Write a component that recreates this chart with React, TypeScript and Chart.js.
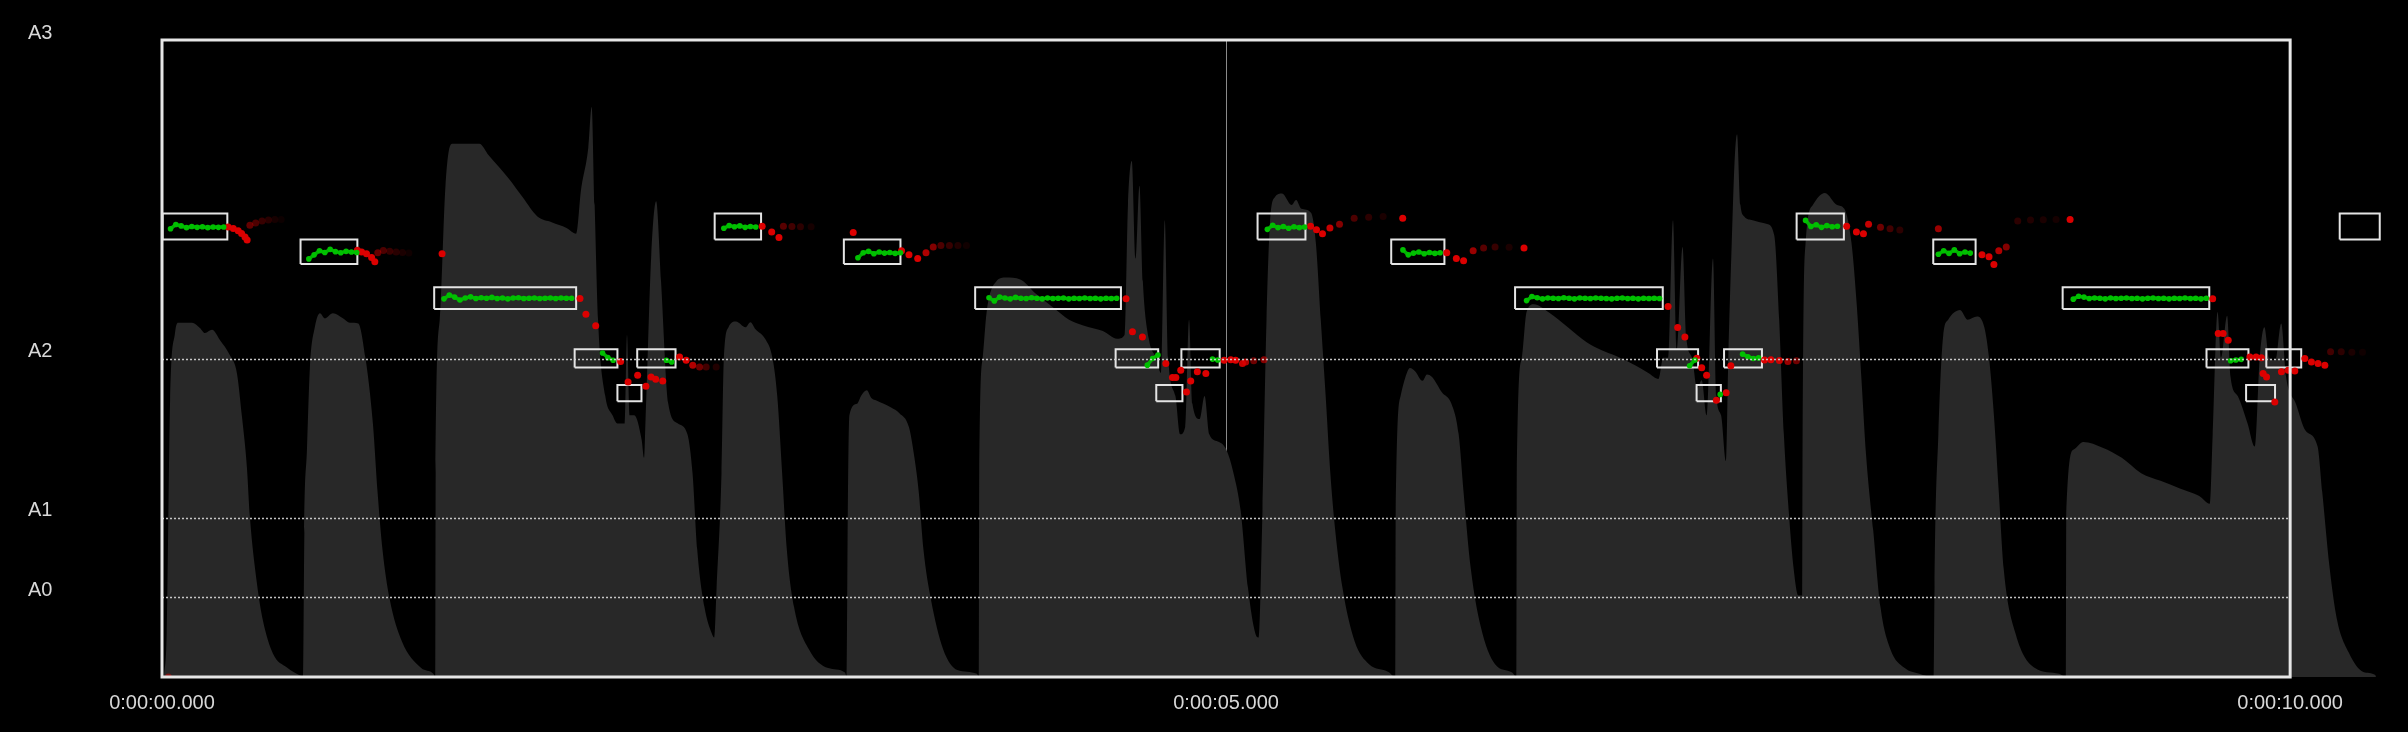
import React, { useEffect, useRef } from 'react';
import Chart from 'chart.js/auto';

// ---- axes ----
const yTickHz = [27.5, 55, 110, 220];
const yTickLabels = ['A0', 'A1', 'A2', 'A3'];
const xTickSec = [0, 5, 10];
const xTickLabels = ['0:00:00.000', '0:00:05.000', '0:00:10.000'];
const xViewEnd = 10.535;
const yMaxHz = 220;

// ---- note boxes (seconds, Hz) ----
const noteStart = [0.003, 0.651, 1.279, 1.939, 2.14, 2.233, 2.597, 3.204, 3.821, 4.481, 4.672, 4.79, 5.148, 5.776, 6.358, 7.025, 7.211, 7.34, 7.681, 8.323, 8.931, 9.607, 9.793, 9.888, 10.233];
const noteEnd = [0.307, 0.918, 1.946, 2.14, 2.253, 2.413, 2.815, 3.47, 4.506, 4.681, 4.795, 4.97, 5.373, 6.026, 7.052, 7.218, 7.325, 7.518, 7.903, 8.522, 9.62, 9.804, 9.929, 10.052, 10.421];
const notePitchHz = [155.56, 146.83, 130.81, 110, 98, 110, 155.56, 146.83, 130.81, 110, 98, 110, 155.56, 146.83, 130.81, 110, 98, 110, 155.56, 146.83, 130.81, 110, 98, 110, 155.56];

// ---- pitch track inside notes (green), sampled every greenStep s ----
const greenStep = 0.025;
const greenStart = [0.04, 0.69, 1.325, 2.07, 2.37, 2.64, 3.27, 3.886, 4.63, 4.936, 5.194, 5.831, 6.412, 7.178, 7.322, 7.427, 7.723, 8.347, 8.981, 9.72];
const greenHz = [
  [154.8, 156.3, 155.8, 155.2, 155.6, 155.3, 155.5, 155.2, 155.4, 155.3, 155.4],
  [144.4, 145.8, 147.2, 146.6, 147.7, 146.9, 146.5, 147.0, 146.8, 146.6],
  [130.6, 131.9, 131.2, 130.2, 130.9, 131.3, 130.7, 131.0, 130.8, 131.1, 130.7, 130.9, 130.6, 130.9, 131.0, 130.7, 130.8, 130.9, 130.7, 130.8, 130.9, 130.7, 130.9, 130.8, 130.8],
  [111.9, 110.3, 109.4],
  [109.4, 108.8],
  [155.0, 155.9, 155.5, 155.8, 155.3, 155.6, 155.4],
  [144.8, 146.5, 147.0, 146.2, 146.8, 146.4, 146.6, 146.3, 146.5],
  [131.0, 129.9, 131.2, 130.9, 130.6, 131.1, 130.8, 130.7, 131.0, 130.8, 130.6, 130.9, 130.7, 130.8, 130.9, 130.6, 130.8, 130.7, 130.9, 130.7, 130.8, 130.6, 130.8, 130.7, 130.8],
  [107.7, 110.0, 111.2],
  [109.8, 109.5],
  [154.6, 156.0, 155.2, 155.6, 155.0, 155.5, 155.2, 155.4],
  [147.5, 145.8, 146.4, 146.8, 146.2, 146.6, 146.3, 146.5],
  [130.0, 131.4, 131.0, 130.6, 130.9, 130.8, 130.7, 131.0, 130.8, 130.6, 130.9, 130.8, 130.7, 130.9, 130.8, 130.7, 130.6, 130.8, 130.9, 130.7, 130.8, 130.6, 130.8, 130.7, 130.8, 130.7],
  [107.5, 109.5],
  [97.6],
  [111.5, 110.6, 110.0, 110.2],
  [157.7, 155.6, 156.2, 155.3, 155.9, 155.5, 155.7],
  [146.0, 147.2, 146.3, 147.5, 146.2, 146.8, 146.4],
  [130.5, 131.5, 131.2, 130.7, 130.9, 130.8, 130.6, 130.9, 130.7, 130.8, 130.9, 130.7, 130.8, 130.6, 130.8, 130.9, 130.7, 130.8, 130.6, 130.8, 130.7, 130.9, 130.7, 130.8, 130.6, 130.8],
  [109.2, 109.5, 109.7],
];

// ---- pitch track outside notes (red): [seconds, Hz, confidence] ----
const redPitch: [number, number, number][] = [
  [0.03, 0, 0.5],
  [0.311, 155.4, 1], [0.335, 154.9, 1], [0.358, 154.1, 1], [0.374, 153.2, 1], [0.39, 152.0, 1], [0.4, 150.9, 1],
  [0.413, 156.0, 0.45], [0.44, 156.8, 0.35], [0.47, 157.5, 0.25], [0.5, 157.8, 0.18], [0.53, 158.0, 0.1], [0.56, 158.0, 0.06],
  [0.918, 147.4, 1], [0.938, 146.8, 1], [0.961, 146.2, 1], [0.985, 144.9, 1], [1.0, 143.4, 1],
  [1.014, 146.5, 0.45], [1.04, 147.3, 0.35], [1.07, 147.0, 0.25], [1.1, 146.8, 0.18], [1.13, 146.6, 0.12], [1.16, 146.4, 0.07],
  [1.316, 146.2, 1],
  [1.964, 130.7, 1], [1.992, 125.3, 1], [2.038, 121.3, 1],
  [2.155, 109.0, 1], [2.19, 101.9, 1], [2.235, 104.2, 1], [2.274, 100.4, 1], [2.298, 103.6, 1], [2.32, 102.8, 1], [2.353, 102.2, 1],
  [2.432, 110.5, 1], [2.463, 109.4, 1], [2.494, 107.7, 0.8], [2.526, 107.1, 0.5], [2.557, 107.1, 0.3], [2.604, 107.1, 0.15],
  [2.82, 155.7, 1], [2.865, 153.7, 1], [2.899, 151.8, 1], [2.92, 155.7, 0.4], [2.96, 155.6, 0.3], [3.0, 155.5, 0.2], [3.05, 155.5, 0.1],
  [3.248, 153.5, 1],
  [3.475, 147.2, 1], [3.51, 145.8, 1], [3.551, 144.5, 1], [3.59, 146.5, 0.8], [3.624, 148.5, 0.6],
  [3.66, 149.0, 0.35], [3.7, 149.0, 0.25], [3.74, 149.0, 0.15], [3.78, 149.0, 0.08],
  [4.53, 130.6, 1], [4.56, 119.2, 1], [4.607, 117.4, 1],
  [4.717, 108.3, 1], [4.748, 103.4, 1], [4.764, 103.4, 1], [4.787, 105.9, 1], [4.814, 98.4, 1], [4.834, 102.2, 1], [4.865, 105.4, 1], [4.905, 104.8, 1],
  [4.991, 109.4, 1], [5.022, 109.6, 1], [5.045, 109.4, 1], [5.077, 108.3, 0.9], [5.092, 108.8, 0.8], [5.13, 109.2, 0.5], [5.178, 109.6, 0.6],
  [5.397, 155.7, 1], [5.425, 154.5, 1], [5.453, 153.1, 1], [5.488, 155.1, 0.9], [5.533, 156.4, 0.6], [5.602, 158.4, 0.35], [5.67, 158.8, 0.2], [5.738, 159.0, 0.12],
  [5.83, 158.4, 1],
  [6.037, 146.5, 1], [6.082, 144.5, 1], [6.116, 143.8, 1], [6.161, 147.2, 0.7], [6.21, 148.2, 0.4], [6.264, 148.5, 0.25], [6.33, 148.4, 0.12],
  [6.4, 148.2, 1],
  [7.077, 128.0, 1], [7.122, 120.7, 1], [7.156, 117.4, 1],
  [7.212, 110.1, 1], [7.235, 106.8, 1], [7.258, 104.2, 1], [7.304, 95.6, 1], [7.35, 98.2, 1], [7.372, 107.5, 1],
  [7.53, 109.5, 1], [7.56, 109.6, 1], [7.6, 109.3, 0.9], [7.64, 109.0, 0.7], [7.68, 109.2, 0.5],
  [7.916, 155.7, 1], [7.962, 153.7, 1], [7.995, 153.1, 1], [8.019, 156.4, 0.9], [8.075, 155.3, 0.5], [8.12, 154.8, 0.3], [8.166, 154.4, 0.2],
  [8.347, 154.8, 0.7],
  [8.552, 145.8, 1], [8.585, 145.1, 1], [8.608, 142.5, 1], [8.631, 147.2, 0.8], [8.666, 148.5, 0.6],
  [8.72, 157.5, 0.2], [8.78, 157.8, 0.15], [8.84, 157.9, 0.12], [8.9, 158.0, 0.1],
  [8.966, 158.0, 1],
  [9.636, 130.6, 1], [9.662, 118.6, 1], [9.685, 118.6, 1], [9.709, 116.3, 1],
  [9.811, 110.5, 1], [9.84, 110.5, 1], [9.865, 110.3, 1], [9.873, 104.8, 1], [9.889, 103.6, 1], [9.928, 95.0, 1],
  [9.959, 105.4, 1], [9.991, 105.9, 1], [10.022, 105.7, 1], [10.069, 110.0, 1], [10.1, 108.8, 1], [10.131, 108.3, 1], [10.163, 107.7, 1],
  [10.19, 112.3, 0.3], [10.24, 112.3, 0.2], [10.29, 112.2, 0.12], [10.34, 112.2, 0.07],
];

// ---- waveform envelope: [seconds, relative amplitude 0..1] ----
const waveEnvelope: [number, number][] = [
  [0.009, 0], [0.022, 0.069], [0.038, 0.435], [0.061, 0.54], [0.075, 0.556], [0.141, 0.556], [0.178, 0.548], [0.202, 0.54], [0.235, 0.545], [0.272, 0.529],
  [0.319, 0.505], [0.352, 0.477], [0.376, 0.408], [0.399, 0.329], [0.413, 0.251], [0.446, 0.147], [0.474, 0.089], [0.521, 0.037], [0.587, 0.015], [0.657, 0.001],
  [0.664, 0], [0.669, 0.226], [0.681, 0.356], [0.695, 0.486], [0.718, 0.549], [0.742, 0.571], [0.765, 0.563], [0.803, 0.571], [0.85, 0.563], [0.883, 0.556],
  [0.922, 0.555], [0.956, 0.501], [0.991, 0.398], [1.013, 0.29], [1.036, 0.2], [1.07, 0.122], [1.127, 0.056], [1.218, 0.014], [1.275, 0.005],
  [1.284, 0], [1.286, 0.32], [1.305, 0.561], [1.332, 0.771], [1.354, 0.834], [1.366, 0.837], [1.491, 0.837], [1.535, 0.819], [1.628, 0.783], [1.695, 0.753],
  [1.764, 0.723], [1.831, 0.714], [1.901, 0.705], [1.946, 0.696], [1.969, 0.765], [2.003, 0.831], [2.019, 0.895], [2.033, 0.741], [2.049, 0.561], [2.083, 0.441],
  [2.117, 0.411], [2.14, 0.398], [2.174, 0.398], [2.185, 0.537], [2.197, 0.411], [2.219, 0.411], [2.254, 0.372], [2.265, 0.344], [2.272, 0.403], [2.299, 0.663],
  [2.322, 0.747], [2.345, 0.621], [2.379, 0.429], [2.424, 0.398], [2.469, 0.381], [2.493, 0.32], [2.515, 0.2], [2.549, 0.11], [2.584, 0.068], [2.595, 0.062],
  [2.606, 0.14], [2.629, 0.32], [2.64, 0.5], [2.662, 0.549], [2.697, 0.558], [2.742, 0.549], [2.765, 0.557], [2.789, 0.546], [2.834, 0.531], [2.869, 0.5],
  [2.891, 0.441], [2.914, 0.32], [2.936, 0.2], [2.97, 0.11], [3.039, 0.044], [3.13, 0.014], [3.209, 0.007],
  [3.218, 0], [3.223, 0.278], [3.23, 0.411], [3.266, 0.429], [3.286, 0.442], [3.312, 0.45], [3.333, 0.438], [3.357, 0.434], [3.426, 0.423], [3.465, 0.414],
  [3.51, 0.392], [3.533, 0.35], [3.556, 0.29], [3.578, 0.2], [3.613, 0.122], [3.67, 0.044], [3.737, 0.011], [3.829, 0.005],
  [3.838, 0], [3.84, 0.32], [3.856, 0.5], [3.875, 0.573], [3.92, 0.621], [3.965, 0.627], [4.033, 0.624], [4.102, 0.603], [4.192, 0.579], [4.262, 0.561],
  [4.329, 0.552], [4.421, 0.543], [4.488, 0.531], [4.523, 0.537], [4.539, 0.741], [4.557, 0.81], [4.575, 0.657], [4.593, 0.771], [4.609, 0.621], [4.637, 0.531],
  [4.671, 0.501], [4.694, 0.477], [4.712, 0.717], [4.728, 0.501], [4.762, 0.441], [4.784, 0.381], [4.808, 0.393], [4.826, 0.561], [4.842, 0.429], [4.876, 0.405],
  [4.899, 0.441], [4.921, 0.381], [4.967, 0.369], [5.001, 0.357], [5.035, 0.32], [5.069, 0.26], [5.103, 0.14], [5.138, 0.068], [5.154, 0.062],
  [5.171, 0.26], [5.19, 0.561], [5.206, 0.711], [5.229, 0.753], [5.263, 0.759], [5.308, 0.741], [5.329, 0.749], [5.354, 0.735], [5.399, 0.729], [5.422, 0.681],
  [5.445, 0.561], [5.468, 0.441], [5.49, 0.32], [5.513, 0.23], [5.547, 0.14], [5.604, 0.056], [5.672, 0.02], [5.763, 0.008],
  [5.795, 0], [5.797, 0.26], [5.82, 0.441], [5.843, 0.471], [5.864, 0.485], [5.888, 0.48], [5.923, 0.465], [5.944, 0.475], [5.968, 0.471], [6.014, 0.447],
  [6.059, 0.429], [6.093, 0.381], [6.116, 0.29], [6.15, 0.17], [6.196, 0.08], [6.264, 0.02], [6.344, 0.007],
  [6.364, 0], [6.366, 0.32], [6.389, 0.5], [6.412, 0.573], [6.446, 0.585], [6.514, 0.573], [6.606, 0.549], [6.696, 0.525], [6.765, 0.513], [6.833, 0.504],
  [6.924, 0.489], [6.986, 0.477], [7.032, 0.468], [7.054, 0.501], [7.077, 0.501], [7.1, 0.717], [7.118, 0.513], [7.145, 0.675], [7.163, 0.531], [7.19, 0.501],
  [7.213, 0.453], [7.235, 0.466], [7.258, 0.411], [7.288, 0.657], [7.304, 0.441], [7.326, 0.411], [7.349, 0.339],
  [7.36, 0.501], [7.376, 0.681], [7.39, 0.813], [7.401, 0.852], [7.417, 0.741], [7.435, 0.723], [7.474, 0.717], [7.508, 0.714], [7.542, 0.711], [7.576, 0.693],
  [7.599, 0.561], [7.621, 0.381], [7.644, 0.26], [7.667, 0.17], [7.689, 0.128],
  [7.707, 0.128], [7.709, 0.381], [7.723, 0.681], [7.757, 0.741], [7.814, 0.76], [7.871, 0.741], [7.905, 0.735], [7.939, 0.681], [7.962, 0.591], [7.985, 0.471],
  [8.007, 0.35], [8.041, 0.23], [8.075, 0.11], [8.121, 0.044], [8.189, 0.014], [8.257, 0.005],
  [8.326, 0], [8.329, 0.14], [8.347, 0.381], [8.37, 0.537], [8.393, 0.561], [8.449, 0.576], [8.484, 0.561], [8.529, 0.566], [8.563, 0.549], [8.585, 0.501],
  [8.608, 0.411], [8.631, 0.29], [8.654, 0.17], [8.71, 0.068], [8.801, 0.014], [8.914, 0.005],
  [8.946, 0], [8.948, 0.26], [8.983, 0.357], [9.028, 0.369], [9.119, 0.36], [9.209, 0.344], [9.3, 0.32], [9.391, 0.308], [9.482, 0.296], [9.573, 0.284],
  [9.622, 0.272], [9.636, 0.381], [9.659, 0.573], [9.675, 0.501], [9.704, 0.567], [9.72, 0.471], [9.754, 0.441], [9.8, 0.398], [9.834, 0.362], [9.857, 0.501],
  [9.879, 0.549], [9.901, 0.501], [9.93, 0.497], [9.958, 0.555], [9.981, 0.471], [10.027, 0.429], [10.072, 0.387], [10.129, 0.362], [10.151, 0.29], [10.186, 0.17],
  [10.219, 0.092], [10.276, 0.038], [10.344, 0.008], [10.4, 0.003], [10.403, 0],
];

const FONT = { family: "'Liberation Sans', Arial, sans-serif", size: 20 };
const LABEL_COLOR = '#d8d8d8';

const framePlugin = {
  id: 'pitchFrame',
  afterDraw(chart: any) {
    const { ctx } = chart;
    const xs = chart.scales.x;
    const ys = chart.scales.y;
    const x0 = xs.getPixelForValue(xTickSec[0]);
    const x1 = xs.getPixelForValue(xTickSec[xTickSec.length - 1]);
    const yb = ys.getPixelForValue(0);
    const yt = ys.getPixelForValue(yMaxHz);
    ctx.save();
    ctx.strokeStyle = 'rgba(215,215,215,0.9)';
    ctx.lineWidth = 1.5;
    ctx.setLineDash([2, 2]);
    ys.ticks.forEach((t: any) => {
      if (t.value >= yMaxHz) return;
      const y = Math.round(ys.getPixelForValue(t.value)) + 0.5;
      ctx.beginPath();
      ctx.moveTo(x0, y);
      ctx.lineTo(x1, y);
      ctx.stroke();
    });
    ctx.setLineDash([]);
    ctx.strokeStyle = '#e6e6e6';
    ctx.lineWidth = 3;
    ctx.strokeRect(x0, yt, x1 - x0, yb - yt);
    ctx.restore();
  },
};

export default function App() {
  const ref = useRef<HTMLCanvasElement>(null);
  useEffect(() => {
    document.body.style.margin = '0';
    document.body.style.background = '#000';

    const greenData: { x: number; y: number | null }[] = [];
    greenStart.forEach((s, i) => {
      greenHz[i].forEach((hz, j) => greenData.push({ x: s + j * greenStep, y: hz }));
      greenData.push({ x: s + greenHz[i].length * greenStep, y: null });
    });
    const redData = redPitch.map(([t, hz]) => ({ x: t, y: hz }));
    const redColors = redPitch.map(([, , a]) => `rgba(220,0,0,${a})`);
    const boxData: { x: number; y: number | null }[] = [];
    noteStart.forEach((s, i) => {
      const e = noteEnd[i];
      const lo = notePitchHz[i] * Math.pow(2, -1 / 24);
      const hi = notePitchHz[i] * Math.pow(2, 1 / 24);
      boxData.push({ x: s, y: lo }, { x: s, y: hi }, { x: e, y: hi }, { x: e, y: lo }, { x: s, y: lo }, { x: e, y: null });
    });
    const waveData = waveEnvelope.map(([t, a]) => ({ x: t, y: a }));

    const chart = new Chart(ref.current as HTMLCanvasElement, {
      type: 'scatter',
      data: {
        datasets: [
          {
            label: 'pitch (note)',
            data: greenData as any,
            backgroundColor: '#00c000',
            borderColor: 'rgba(0,200,0,0.85)',
            borderWidth: 3.5,
            showLine: true,
            spanGaps: false,
            pointRadius: 2.8,
            pointBorderWidth: 0,
            order: 0,
          } as any,
          {
            label: 'pitch',
            data: redData,
            backgroundColor: redColors,
            borderWidth: 0,
            pointRadius: 3.5,
            order: 1,
          },
          {
            type: 'line',
            label: 'notes',
            data: boxData as any,
            borderColor: '#e4e4e4',
            borderWidth: 2,
            pointRadius: 0,
            fill: false,
            spanGaps: false,
            tension: 0,
            borderJoinStyle: 'miter',
            order: 2,
          } as any,
          {
            type: 'line',
            label: 'waveform',
            data: waveData,
            yAxisID: 'yw',
            backgroundColor: '#282828',
            borderColor: 'rgba(0,0,0,0)',
            borderWidth: 0,
            pointRadius: 0,
            fill: 'origin',
            cubicInterpolationMode: 'monotone',
            order: 3,
          } as any,
        ],
      },
      options: {
        animation: false,
        responsive: false,
        maintainAspectRatio: false,
        devicePixelRatio: 1,
        layout: { padding: { left: 28, top: 40, right: 0, bottom: 0 } },
        plugins: { legend: { display: false }, tooltip: { enabled: false } },
        events: [],
        scales: {
          x: {
            type: 'linear',
            min: 0,
            max: xViewEnd,
            z: 1,
            afterBuildTicks: (scale: any) => {
              scale.ticks = xTickSec.map((v) => ({ value: v }));
            },
            afterFit: (scale: any) => {
              scale.height = 55;
            },
            ticks: {
              autoSkip: false,
              maxRotation: 0,
              minRotation: 0,
              padding: 14,
              color: LABEL_COLOR,
              font: FONT,
              callback: (_v: any, i: number) => xTickLabels[i],
            },
            grid: { color: '#8a8a8a', lineWidth: 1, drawTicks: false },
            border: { display: false },
          },
          y: {
            type: 'linear',
            min: 0,
            max: yMaxHz,
            afterBuildTicks: (scale: any) => {
              scale.ticks = yTickHz.map((v) => ({ value: v }));
            },
            afterFit: (scale: any) => {
              scale.width = 134;
            },
            ticks: {
              crossAlign: 'far',
              labelOffset: -7,
              color: LABEL_COLOR,
              font: FONT,
              callback: (_v: any, i: number) => yTickLabels[i],
            },
            grid: { display: false },
            border: { display: false },
          },
          yw: {
            type: 'linear',
            min: 0,
            max: 1,
            display: false,
          },
        },
      } as any,
      plugins: [framePlugin],
    });
    return () => chart.destroy();
  }, []);

  return (
    <div style={{ position: 'fixed', left: 0, top: 0, width: 2408, height: 732, background: '#000' }}>
      <canvas ref={ref} width={2408} height={732} style={{ display: 'block' }} />
    </div>
  );
}
